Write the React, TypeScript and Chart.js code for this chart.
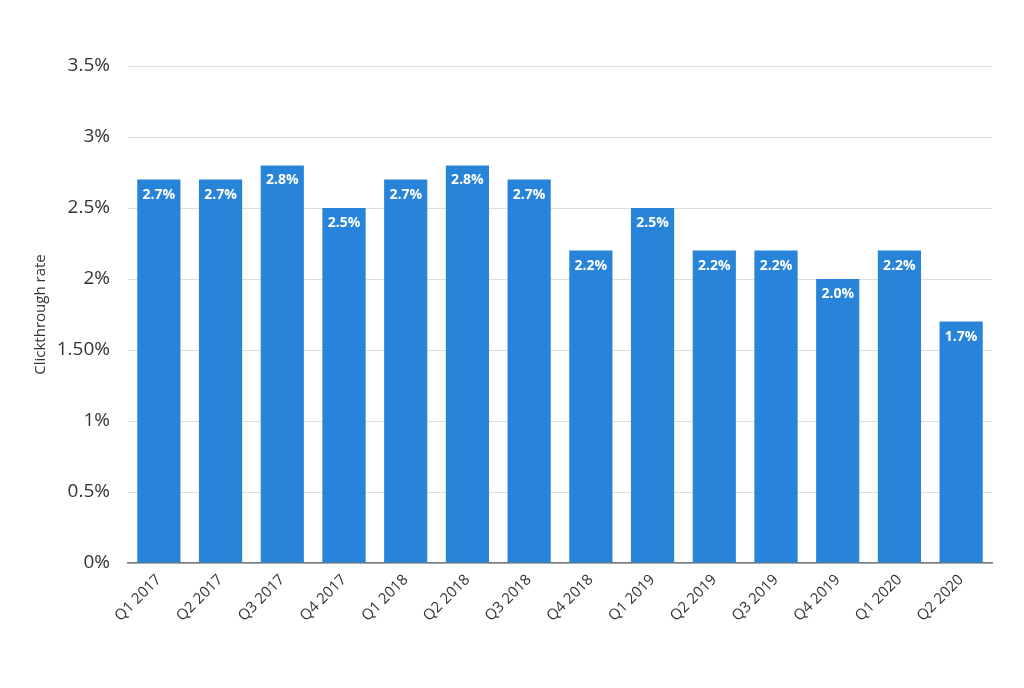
import React, { useEffect, useRef } from "react";
import { Chart, registerables } from "chart.js";

Chart.register(...registerables);

const categories = [
  "Q1 2017", "Q2 2017", "Q3 2017", "Q4 2017",
  "Q1 2018", "Q2 2018", "Q3 2018", "Q4 2018",
  "Q1 2019", "Q2 2019", "Q3 2019", "Q4 2019",
  "Q1 2020", "Q2 2020",
];
const clickthroughRate = [2.7, 2.7, 2.8, 2.5, 2.7, 2.8, 2.7, 2.2, 2.5, 2.2, 2.2, 2.0, 2.2, 1.7];
const yTickValues = [0, 0.5, 1, 1.5, 2, 2.5, 3, 3.5];
const yTickLabels = ["0%", "0.5%", "1%", "1.50%", "2%", "2.5%", "3%", "3.5%"];
const yAxisTitle = "Clickthrough rate";

const FONT = "'Open Sans', 'DejaVu Sans', sans-serif";

const valueLabelPlugin = {
  id: "valueLabels",
  afterDatasetsDraw(chart: any) {
    const ctx = chart.ctx;
    const meta = chart.getDatasetMeta(0);
    ctx.save();
    ctx.font = `bold 14px ${FONT}`;
    ctx.fillStyle = "#ffffff";
    ctx.textAlign = "center";
    ctx.textBaseline = "middle";
    meta.data.forEach((bar: any, i: number) => {
      ctx.fillText(clickthroughRate[i].toFixed(1) + "%", bar.x, bar.y + 15);
    });
    ctx.restore();
  },
};

export default function App() {
  const ref = useRef<HTMLCanvasElement | null>(null);
  useEffect(() => {
    document.body.style.margin = "0";
    const canvas = ref.current!;
    const chart = new Chart(canvas, {
      type: "bar",
      data: {
        labels: categories,
        datasets: [
          {
            data: clickthroughRate,
            backgroundColor: "#2884d8",
            borderWidth: 0,
            barPercentage: 0.7,
            categoryPercentage: 1.0,
          },
        ],
      },
      options: {
        animation: false,
        responsive: false,
        maintainAspectRatio: false,
        layout: { padding: { left: 32, top: 66, right: 32, bottom: 0 } },
        plugins: { legend: { display: false }, tooltip: { enabled: false } },
        scales: {
          x: {
            grid: { display: false, drawTicks: false },
            border: { display: true, color: "#777777", width: 1.5 },
            ticks: {
              color: "#333333",
              font: { family: FONT, size: 15 },
              minRotation: 45,
              maxRotation: 45,
              padding: 8,
            },
            afterFit(scale: any) {
              scale.height = 125;
            },
          },
          y: {
            min: 0,
            max: 3.5,
            afterBuildTicks(scale: any) {
              scale.ticks = yTickValues.map((v) => ({ value: v }));
            },
            ticks: {
              color: "#333333",
              font: { family: FONT, size: 19 },
              padding: 18,
              callback: (v: any) => {
                const i = yTickValues.indexOf(Number(v));
                return i >= 0 ? yTickLabels[i] : "";
              },
            },
            grid: { color: "#dddddd", drawTicks: false },
            border: { display: false },
            title: {
              display: true,
              text: yAxisTitle,
              color: "#333333",
              font: { family: FONT, size: 15 },
              padding: { top: 0, bottom: 0 },
            },
            afterFit(scale: any) {
              scale.width = 96;
            },
          },
        },
      },
      plugins: [valueLabelPlugin],
    });
    return () => chart.destroy();
  }, []);
  return <canvas ref={ref} width={1024} height={688} style={{ display: "block" }} />;
}
